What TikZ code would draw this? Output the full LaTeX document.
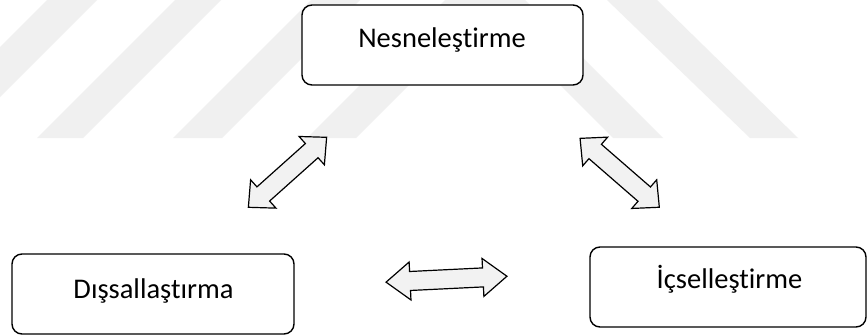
\documentclass[tikz,border=0pt]{standalone}
\usepackage{fontspec}
\setmainfont[Ligatures=NoCommon]{Carlito}
\tikzset{
  box/.style={draw=black, line width=1.4pt, fill=white, rounded corners=10pt,
    inner sep=0pt, minimum height=80pt},
  lbl/.style={font=\fontsize{28.5}{31}\selectfont, inner sep=0pt, anchor=base},
  barrow/.style={draw=black, line width=1.2pt, fill=black!5, line join=miter},
  wm/.style={fill=black!6, draw=none}
}
% \blockarrow{length}{head length}
\newcommand{\blockarrow}[2]{%
  \path[barrow] (-#1/2,0) -- (-#1/2+#2,19) -- (-#1/2+#2,9.5) -- (#1/2-#2,9.5)
    -- (#1/2-#2,19) -- (#1/2,0) -- (#1/2-#2,-19) -- (#1/2-#2,-9.5)
    -- (-#1/2+#2,-9.5) -- (-#1/2+#2,-19) -- cycle;}
\begin{document}
\begin{tikzpicture}[x=1pt,y=-1pt]
\fill[white] (0,0) rectangle (867,335);
\useasboundingbox (0,0) rectangle (867,335);
% watermark stripes
\fill[wm] (47,0) -- (97,0) -- (0,97) -- (0,47) -- cycle;
\fill[wm] (175,0) -- (221,0) -- (83,138) -- (37,138) -- cycle;
\fill[wm] (311,0) -- (360,0) -- (222,138) -- (173,138) -- cycle;
\fill[wm] (445,0) -- (494,0) -- (356,138) -- (307,138) -- cycle;
\fill[wm] (475,0) -- (525,0) -- (663,138) -- (613,138) -- cycle;
\fill[wm] (607,0) -- (657,0) -- (798,138) -- (750,138) -- cycle;
% boxes
\node[box, minimum width=281pt] (nes) at (442.5,45) {};
\node[box, minimum width=282pt] (dis) at (153,294) {};
\node[box, minimum width=276pt] (ics) at (728,287) {};
\node[lbl] (tnes) at (442,47) {Nesneleştirme};
\node[lbl] (tdis) at (153.5,298) {Dışsallaştırma};
\node[lbl] (tics) at (729.5,288) {İçselleştirme};
% block arrows
\begin{scope}[shift={(287.5,172.3)}, rotate=41.8]
  \blockarrow{105}{20}
\end{scope}
\begin{scope}[shift={(619.7,172.8)}, rotate=-41]
  \blockarrow{105}{20}
\end{scope}
\begin{scope}[shift={(446.5,279.2)}, rotate=2.8]
  \blockarrow{121}{24}
\end{scope}
\end{tikzpicture}
\end{document}
